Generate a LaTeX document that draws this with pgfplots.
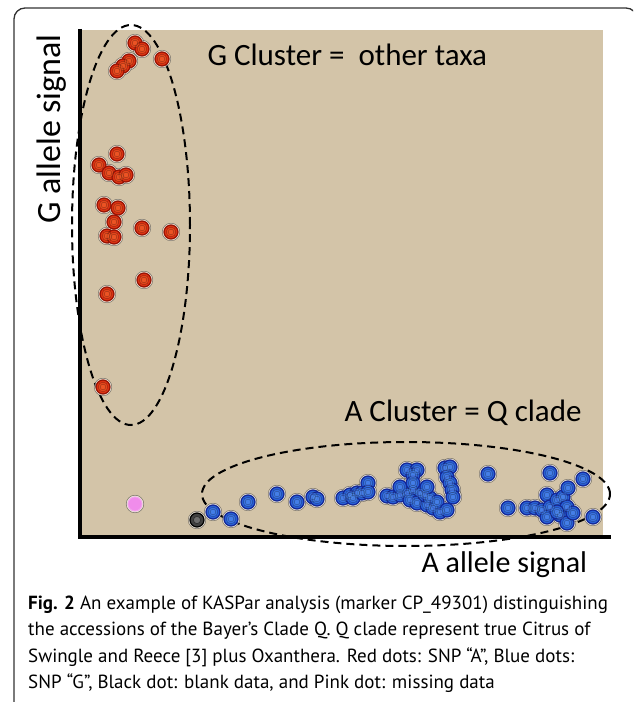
\documentclass[border=0pt]{standalone}
\usepackage{pgfplots}
\usepackage{pgfplotstable}
\pgfplotsset{compat=1.18}
\usepackage{fontspec}
\setmainfont{Carlito}
\newfontfamily\capfont{PT Sans}

\definecolor{tanbg}{RGB}{211,196,168}
\definecolor{reddot}{RGB}{222,50,18}
\definecolor{redlite}{RGB}{245,110,50}
\definecolor{rededge}{RGB}{150,20,5}
\definecolor{bluedot}{RGB}{40,95,215}
\definecolor{bluelite}{RGB}{90,150,245}
\definecolor{blueedge}{RGB}{20,40,150}
\definecolor{pinkdot}{RGB}{240,140,235}
\definecolor{frame}{RGB}{50,50,50}

% red dots (G cluster)
\pgfplotstableread{
x y
55 494
62 488
82 478
49 476
43 471
37 466
37 383
19 372
29 364
39 360
46 362
24 332
38 329
34 315
27 301
34 300
62 309
91 305
64 257
27 243
23 150
}\reddata

% blue dots (A cluster)
\pgfplotstableread{
x y
133 25
151 18
168 35
197 43
217 35
233 40
237 38
263 39
270 42
277 44
273 39
282 44
288 54
288 45
307 41
313 40
320 42
327 44
333 47
340 44
327 67
337 67
333 62
330 37
337 34
347 32
353 29
360 25
345 42
350 39
357 35
367 27
365 69
370 70
367 60
370 54
372 47
373 40
320 50
333 54
347 50
408 63
428 29
447 29
455 29
462 27
467 42
470 64
470 30
477 37
483 40
488 49
487 30
480 22
487 14
493 24
503 58
513 20
467 20
477 25
}\bluedata

\pgfplotstableread{
x y
117 17
}\blackdata

\pgfplotstableread{
x y
55 33
}\pinkdata

\begin{document}
\begin{tikzpicture}[x=1pt,y=1pt]
\useasboundingbox (0,0) rectangle (633,702);
\begin{scope}
  \clip (0,0) rectangle (633,702);
  \draw[frame, line width=1.3pt, rounded corners=11pt] (14,-30) rectangle (637,694);
\end{scope}

\begin{axis}[
    at={(80pt,165pt)}, anchor=origin,
    scale only axis,
    width=530pt, height=507pt,
    xmin=0, xmax=530, ymin=0, ymax=507,
    hide axis,
    clip=false,
    every axis plot/.append style={only marks, mark=*, mark size=7pt},
  ]
  \fill[tanbg] (axis cs:0,0) rectangle (axis cs:523,507);
  \draw[black, line width=4pt] (axis cs:0,508) -- (axis cs:0,0) -- (axis cs:531,0);
  % halos
  \addplot[mark options={fill=white, draw=none, opacity=0.55}, mark size=8.8pt] table {\reddata};
  \addplot[mark options={fill=white, draw=none, opacity=0.55}, mark size=8.8pt] table {\bluedata};
  \addplot[mark options={fill=white, draw=none, opacity=0.55}, mark size=8.8pt] table {\blackdata};
  \addplot[mark options={fill=white, draw=none, opacity=0.55}, mark size=8.8pt] table {\pinkdata};
  % dots
  \addplot[mark options={fill=reddot, draw=rededge, line width=1.2pt}] table {\reddata};
  \addplot[mark options={fill=redlite, draw=none, opacity=0.35}, mark size=4.8pt] table {\reddata};
  \addplot[mark options={fill=redlite, draw=none, opacity=0.35}, mark size=2.8pt] table {\reddata};
  \addplot[mark options={fill=bluedot, draw=blueedge, line width=1.2pt}] table {\bluedata};
  \addplot[mark options={fill=bluelite, draw=none, opacity=0.35}, mark size=4.8pt] table {\bluedata};
  \addplot[mark options={fill=bluelite, draw=none, opacity=0.35}, mark size=2.8pt] table {\bluedata};
  \addplot[mark options={fill=black!75, draw=black, line width=1.2pt}] table {\blackdata};
  \addplot[mark options={fill=black!45, draw=none, opacity=0.6}, mark size=3.5pt] table {\blackdata};
  \addplot[mark options={fill=pinkdot, draw=pinkdot!80!white, line width=1pt}] table {\pinkdata};
  % cluster outlines
  \draw[black, line width=2pt, dash pattern=on 8pt off 5pt]
    (axis cs:51,312) ellipse [x radius=59pt, y radius=200pt];
  \draw[black, line width=2pt, dash pattern=on 8pt off 5pt]
    (axis cs:326,43) ellipse [x radius=204pt, y radius=52pt];
\end{axis}

% texts
\node[anchor=west, font=\fontsize{31}{37}\selectfont] at (204,647) {G Cluster =\ \ other taxa};
\node[anchor=west, font=\fontsize{31}{37}\selectfont] at (341,289) {A Cluster = Q clade};
\node[anchor=west, font=\fontsize{30}{36}\selectfont] at (418,137) {A allele signal};
\node[rotate=90, font=\fontsize{34}{40}\selectfont] at (52,573) {G allele signal};

% caption
\begin{scope}[every node/.style={anchor=base west, inner sep=0pt, font=\capfont\fontsize{19}{23}\selectfont}]
\node at (28,92) {\textbf{Fig. 2} An example of KASPar analysis (marker CP\_49301) distinguishing};
\node at (28,66) {the accessions of the Bayer’s Clade Q. Q clade represent true Citrus of};
\node at (28,39) {Swingle and Reece [3] plus Oxanthera. Red dots: SNP “A”, Blue dots:};
\node at (28,13) {SNP “G”, Black dot: blank data, and Pink dot: missing data};
\end{scope}
\end{tikzpicture}
\end{document}
